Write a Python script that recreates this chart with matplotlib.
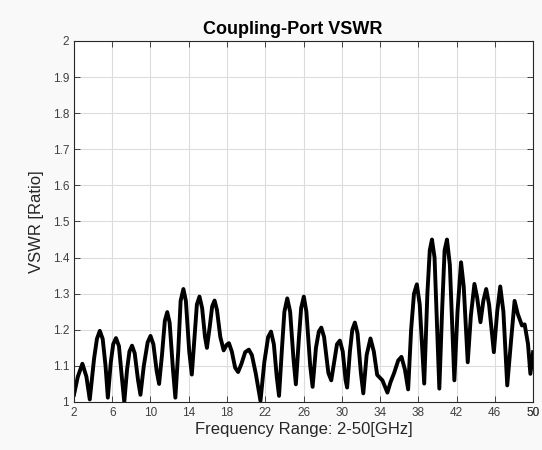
import matplotlib
matplotlib.use('Agg')
import matplotlib.pyplot as plt
import numpy as np

# Frequência [GHz] e VSWR
freq = [2.0, 2.4, 2.88, 3.3, 3.65, 4.1, 4.4, 4.7, 5.0, 5.3, 5.54, 5.85, 6.1, 6.39, 6.7,
        7.0, 7.26, 7.55, 7.8, 8.07, 8.35, 8.7, 8.95, 9.3, 9.7, 10.0, 10.3, 10.65, 10.9,
        11.2, 11.5, 11.75, 12.0, 12.35, 12.6, 12.9, 13.15, 13.44, 13.7, 14.05, 14.32,
        14.6, 14.85, 15.12, 15.4, 15.7, 15.9, 16.2, 16.45, 16.7, 16.95, 17.3, 17.65,
        17.95, 18.2, 18.5, 18.85, 19.16, 19.5, 19.9, 20.28, 20.6, 21.0, 21.5, 21.9,
        22.3, 22.6, 22.9, 23.2, 23.44, 23.75, 24.0, 24.3, 24.6, 24.95, 25.2, 25.5,
        25.75, 26.03, 26.3, 26.7, 26.95, 27.3, 27.6, 27.86, 28.15, 28.6, 28.9, 29.2,
        29.5, 29.8, 30.1, 30.4, 30.56, 30.85, 31.1, 31.37, 31.65, 32.0, 32.25, 32.6,
        33.0, 33.35, 33.7, 34.25, 34.77, 35.1, 35.47, 35.9, 36.24, 36.6, 36.94, 37.25,
        37.55, 37.85, 38.15, 38.62, 38.95, 39.2, 39.43, 39.7, 40.2, 40.5, 40.75, 41.0,
        41.3, 41.77, 42.1, 42.47, 42.75, 43.17, 43.5, 43.87, 44.15, 44.5, 44.8, 45.1,
        45.4, 45.9, 46.25, 46.57, 46.9, 47.3, 47.7, 48.07, 48.4, 48.84, 49.12, 49.47,
        49.72, 50.0]
vswr = [1.02, 1.07, 1.106, 1.07, 1.007, 1.12, 1.175, 1.197, 1.175, 1.10, 1.012, 1.11,
        1.16, 1.177, 1.155, 1.07, 1.0, 1.09, 1.14, 1.156, 1.135, 1.06, 1.02, 1.10,
        1.165, 1.183, 1.16, 1.085, 1.05, 1.13, 1.225, 1.249, 1.22, 1.09, 1.012, 1.14,
        1.28, 1.313, 1.28, 1.14, 1.076, 1.18, 1.27, 1.292, 1.26, 1.18, 1.15, 1.21,
        1.265, 1.281, 1.255, 1.18, 1.143, 1.158, 1.163, 1.14, 1.095, 1.083, 1.105,
        1.138, 1.145, 1.13, 1.08, 1.003, 1.11, 1.18, 1.195, 1.16, 1.07, 1.017, 1.15,
        1.25, 1.287, 1.25, 1.12, 1.049, 1.17, 1.26, 1.292, 1.25, 1.10, 1.042, 1.15,
        1.195, 1.206, 1.18, 1.08, 1.06, 1.11, 1.16, 1.17, 1.14, 1.06, 1.04, 1.14,
        1.20, 1.22, 1.19, 1.08, 1.024, 1.13, 1.176, 1.14, 1.075, 1.06, 1.026, 1.055,
        1.08, 1.115, 1.125, 1.09, 1.035, 1.20, 1.30, 1.326, 1.27, 1.051, 1.30, 1.42,
        1.45, 1.40, 1.037, 1.26, 1.42, 1.45, 1.38, 1.06, 1.25, 1.387, 1.32, 1.11,
        1.24, 1.327, 1.29, 1.221, 1.28, 1.313, 1.27, 1.138, 1.25, 1.32, 1.25, 1.046,
        1.17, 1.28, 1.244, 1.212, 1.215, 1.161, 1.078, 1.138]

xticks = list(range(2, 51, 4)) + [50]
yticks = np.round(np.arange(1.0, 2.01, 0.1), 1)
ytick_labels = ['1', '1.1', '1.2', '1.3', '1.4', '1.5', '1.6', '1.7', '1.8', '1.9', '2']

plt.rcParams['font.family'] = ['Liberation Sans', 'DejaVu Sans']

fig = plt.figure(figsize=(5.42, 4.5), dpi=100, facecolor='#f9f9f9')
ax = fig.add_axes([0.1365, 0.1067, 0.847, 0.8022])
ax.set_facecolor('white')

ax.plot(freq, vswr, color='black', linewidth=2.8, solid_joinstyle='round')

ax.set_xlim(2, 50)
ax.set_ylim(1, 2)
ax.set_xticks(xticks)
ax.set_yticks(yticks)
ax.set_yticklabels(ytick_labels)
ax.grid(True, color='#dcdcdc', linewidth=0.8)
ax.tick_params(direction='in', top=True, right=True, length=4, labelsize=8.5,
               colors='#404040', width=0.7)
for s in ax.spines.values():
    s.set_color('#262626')
    s.set_linewidth(0.8)

ax.set_title('Coupling-Port VSWR', fontsize=13, fontweight='bold', color='black',
             pad=5, x=0.476)
ax.set_xlabel('Frequency Range: 2-50[GHz]', fontsize=12, color='#262626', labelpad=2)
ax.set_ylabel('VSWR [Ratio]', fontsize=12, color='#262626', labelpad=6)

fig.savefig('out.png', dpi=100, facecolor=fig.get_facecolor())
